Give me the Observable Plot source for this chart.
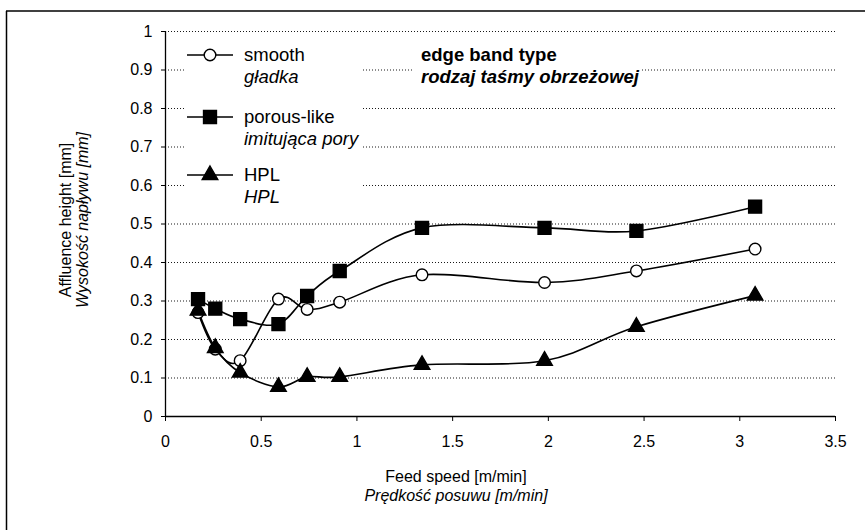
<!DOCTYPE html>
<html>
<head>
<meta charset="utf-8">
<script src="https://cdn.jsdelivr.net/npm/d3@7"></script>
<script src="https://cdn.jsdelivr.net/npm/@observablehq/plot@0.6"></script>
<style>
  html, body { margin: 0; padding: 0; background: #fff; }
  svg { font-family: "Liberation Sans", Arial, sans-serif; }
</style>
</head>
<body>
<div id="chart"></div>
<script>
// ---- data ----
const feedSpeed = [0.17, 0.26, 0.39, 0.59, 0.74, 0.91, 1.34, 1.98, 2.46, 3.08];
const smooth    = [0.270, 0.175, 0.145, 0.305, 0.278, 0.297, 0.368, 0.348, 0.378, 0.435];
const porous    = [0.305, 0.280, 0.253, 0.240, 0.313, 0.378, 0.490, 0.490, 0.482, 0.545];
const hpl       = [0.275, 0.178, 0.114, 0.077, 0.103, 0.103, 0.134, 0.145, 0.233, 0.314];
const seriesNames = ["smooth", "porous-like", "HPL"];
const seriesNamesPl = ["gładka", "imitująca pory", "HPL"];
const seriesValues = [smooth, porous, hpl];
const xTicks = [0, 0.5, 1, 1.5, 2, 2.5, 3, 3.5];
const yTicks = [0, 0.1, 0.2, 0.3, 0.4, 0.5, 0.6, 0.7, 0.8, 0.9, 1];
const yTitle = ["Affluence height [mm]", "Wysokość napływu [mm]"];
const xTitle = ["Feed speed [m/min]", "Prędkość posuwu [m/min]"];
const legendTitle = ["edge band type", "rodzaj taśmy obrzeżowej"];

const rows = seriesNames.flatMap((s, i) =>
  feedSpeed.map((x, j) => ({series: s, x, y: seriesValues[i][j]})));

const symbolOf = {"smooth": "circle", "porous-like": "square", "HPL": "triangle"};
const fillOf = {"smooth": "#fff", "porous-like": "#000", "HPL": "#000"};
const rOf = {"smooth": 5.8, "porous-like": 7.3, "HPL": 5.8};

const W = 865, H = 530;
const plot = Plot.plot({
  width: W, height: H,
  marginLeft: 165, marginRight: 30, marginTop: 31, marginBottom: 114,
  x: {domain: [0, 3.5]},
  y: {domain: [0, 1]},
  style: {fontFamily: "'Liberation Sans', Arial, sans-serif", background: "#fff", color: "#000"},
  marks: [
    Plot.gridY(yTicks.filter(d => d > 0), {stroke: "#000", strokeOpacity: 0.9, strokeWidth: 1, strokeDasharray: "1,2"}),
    Plot.ruleY([0], {stroke: "#000", strokeWidth: 1.3}),
    Plot.ruleX([0], {stroke: "#000", strokeWidth: 1.3}),
    Plot.axisY(yTicks, {tickSize: 4, tickPadding: 9, fontSize: 16, label: null, tickFormat: d => String(d), stroke: "#000"}),
    Plot.axisX(xTicks, {tickSize: 5, tickPadding: 14, fontSize: 16, label: null, tickFormat: d => String(d), stroke: "#000"}),
    Plot.line(rows, {x: "x", y: "y", z: "series", curve: "cardinal", stroke: "#000", strokeWidth: 1.6}),
    ...seriesNames.map(s => Plot.dot(rows.filter(d => d.series === s), {
      x: "x", y: "y", symbol: symbolOf[s], r: rOf[s], fill: fillOf[s], stroke: "#000", strokeWidth: 1.4
    }))
  ]
});

const svg = d3.select(plot);
const font = "'Liberation Sans', Arial, sans-serif";

// chart border (top and left visible in reference)
svg.append("line").attr("x1", 6).attr("x2", W).attr("y1", 11).attr("y2", 11).attr("stroke", "#000").attr("stroke-width", 1.5);
svg.append("line").attr("x1", 6.5).attr("x2", 6.5).attr("y1", 11).attr("y2", H).attr("stroke", "#000").attr("stroke-width", 1.5);

// y axis title
const yt = svg.append("text").attr("transform", "translate(65,220) rotate(-90)")
  .attr("text-anchor", "middle").attr("font-family", font).attr("font-size", 16);
yt.append("tspan").attr("x", 0).attr("dy", "0.35em").text(yTitle[0]);
yt.append("tspan").attr("x", 0).attr("dy", "1.1em").attr("font-style", "italic").text(yTitle[1]);

// x axis title
const xt = svg.append("text").attr("text-anchor", "middle").attr("font-family", font).attr("font-size", 16);
xt.append("tspan").attr("x", 456).attr("y", 476).attr("dy", "0.35em").text(xTitle[0]);
xt.append("tspan").attr("x", 456).attr("y", 495).attr("dy", "0.35em").attr("font-style", "italic").text(xTitle[1]);

// legend
const lg = svg.append("g").attr("text-anchor", "start");
lg.append("rect").attr("x", 185).attr("y", 38).attr("width", 177).attr("height", 170).attr("fill", "#fff");
const legendY = [55, 117, 175];
seriesNames.forEach((s, i) => {
  const y = legendY[i];
  lg.append("line").attr("x1", 187).attr("x2", 233).attr("y1", y).attr("y2", y).attr("stroke", "#000").attr("stroke-width", 1.6);
  lg.append("path").attr("transform", `translate(210,${y})`)
    .attr("d", d3.symbol(s === "smooth" ? d3.symbolCircle : s === "porous-like" ? d3.symbolSquare : d3.symbolTriangle, Math.PI * rOf[s] * rOf[s])())
    .attr("fill", fillOf[s]).attr("stroke", "#000").attr("stroke-width", 1.4);
  lg.append("text").attr("x", 244).attr("y", y).attr("dy", "0.35em").attr("text-anchor", "start").attr("font-family", font).attr("font-size", 18.5).text(s);
  lg.append("text").attr("x", 244).attr("y", y + 22).attr("dy", "0.35em").attr("text-anchor", "start").attr("font-family", font).attr("font-size", 18.5).attr("font-style", "italic").text(seriesNamesPl[i]);
});
lg.append("rect").attr("x", 413).attr("y", 40).attr("width", 228).attr("height", 48).attr("fill", "#fff");
lg.append("text").attr("x", 421).attr("y", 55).attr("dy", "0.35em").attr("text-anchor", "start").attr("font-family", font).attr("font-size", 18.5).attr("font-weight", "bold").text(legendTitle[0]);
lg.append("text").attr("x", 421).attr("y", 77).attr("dy", "0.35em").attr("text-anchor", "start").attr("font-family", font).attr("font-size", 18.5).attr("font-weight", "bold").attr("font-style", "italic").text(legendTitle[1]);

document.getElementById("chart").append(plot);
</script>
</body>
</html>
